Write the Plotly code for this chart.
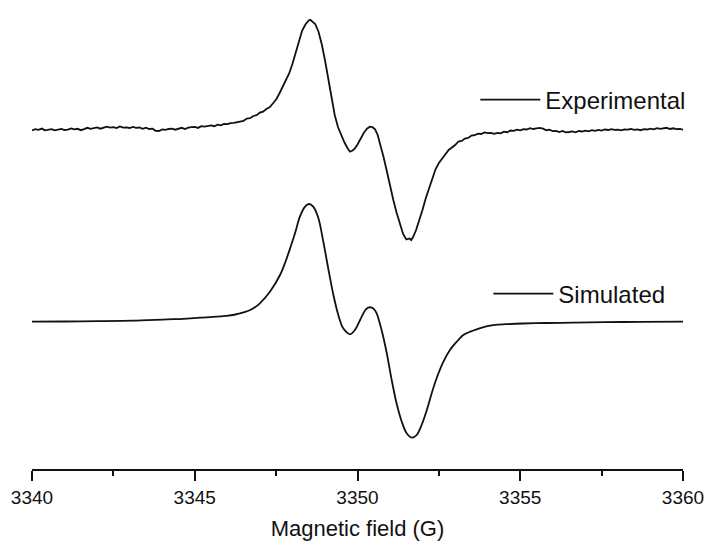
import plotly.graph_objects as go

# ---------------- data ----------------
exp_field = [
    3340.0, 3340.1, 3340.2, 3340.3, 3340.4, 3340.5, 3340.6, 3340.7, 3340.8, 3340.9,
    3341.0, 3341.1, 3341.2, 3341.3, 3341.4, 3341.5, 3341.6, 3341.7, 3341.8, 3341.9,
    3342.0, 3342.1, 3342.2, 3342.3, 3342.4, 3342.5, 3342.6, 3342.7, 3342.8, 3342.9,
    3343.0, 3343.1, 3343.2, 3343.3, 3343.4, 3343.5, 3343.6, 3343.7, 3343.8, 3343.9,
    3344.0, 3344.1, 3344.2, 3344.3, 3344.4, 3344.5, 3344.6, 3344.7, 3344.8, 3344.9,
    3345.0, 3345.1, 3345.2, 3345.3, 3345.4, 3345.5, 3345.6, 3345.7, 3345.8, 3345.9,
    3346.0, 3346.1, 3346.2, 3346.3, 3346.4, 3346.5, 3346.6, 3346.7, 3346.8, 3346.9,
    3347.0, 3347.1, 3347.2, 3347.3, 3347.4, 3347.5, 3347.6, 3347.7, 3347.8, 3347.9,
    3348.0, 3348.1, 3348.2, 3348.3, 3348.4, 3348.5, 3348.55, 3348.6, 3348.7, 3348.8,
    3348.9, 3349.0, 3349.1, 3349.2, 3349.3, 3349.4, 3349.5, 3349.6, 3349.7, 3349.77,
    3349.85, 3349.92, 3350.0, 3350.1, 3350.2, 3350.3, 3350.38, 3350.46, 3350.54, 3350.62,
    3350.7, 3350.8, 3350.9, 3351.0, 3351.1, 3351.2, 3351.3, 3351.4, 3351.5, 3351.6,
    3351.65, 3351.7, 3351.8, 3351.9, 3352.0, 3352.1, 3352.2, 3352.3, 3352.4, 3352.5,
    3352.6, 3352.7, 3352.8, 3352.9, 3353.0, 3353.1, 3353.2, 3353.3, 3353.4, 3353.5,
    3353.6, 3353.7, 3353.8, 3353.9, 3354.0, 3354.1, 3354.2, 3354.3, 3354.4, 3354.5,
    3354.6, 3354.7, 3354.8, 3354.9, 3355.0, 3355.1, 3355.2, 3355.3, 3355.4, 3355.5,
    3355.6, 3355.7, 3355.8, 3355.9, 3356.0, 3356.1, 3356.2, 3356.3, 3356.4, 3356.5,
    3356.6, 3356.7, 3356.8, 3356.9, 3357.0, 3357.1, 3357.2, 3357.3, 3357.4, 3357.5,
    3357.6, 3357.7, 3357.8, 3357.9, 3358.0, 3358.1, 3358.2, 3358.3, 3358.4, 3358.5,
    3358.6, 3358.7, 3358.8, 3358.9, 3359.0, 3359.1, 3359.2, 3359.3, 3359.4, 3359.5,
    3359.6, 3359.7, 3359.8, 3359.9, 3360.0,
]
exp_signal = [
    -0.5, 0.8, 0.2, 1.4, -0.3, 0.5, 0.9, -0.4, 0.3, 1.1,
    0.0, 0.4, 1.6, 0.7, 1.2, -0.2, 0.9, 2.2, 1.1, 1.8,
    2.6, 1.3, 2.0, 3.4, 2.4, 2.9, 1.9, 3.6, 2.3, 2.7,
    2.0, 3.1, 2.2, 2.5, 1.2, 2.4, 1.0, 1.3, -0.8, -1.0,
    0.6, 0.1, 1.0, 1.4, 0.3, 1.0, 2.2, 1.0, 2.4, 2.8,
    3.2, 2.1, 3.9, 3.3, 4.0, 4.6, 3.8, 5.4, 4.6, 6.1,
    5.8, 6.9, 7.2, 8.0, 9.0, 9.2, 11.4, 11.8, 14.0, 14.8,
    17.4, 18.4, 21.0, 22.6, 26.5, 30.5, 36.5, 43.0, 50.0, 56.5,
    66.0, 77.5, 90.0, 99.5, 105.5, 109.5, 110.2, 109.0, 106.0, 98.5,
    86.0, 70.0, 51.0, 32.0, 15.0, 3.0, -5.0, -12.5, -18.5, -21.7,
    -20.5, -18.3, -14.5, -9.0, -2.5, 1.5, 3.3, 2.8, 0.7, -5.0,
    -14.0, -27.0, -41.0, -56.7, -70.0, -82.5, -94.0, -104.0, -109.5, -108.5,
    -110.0, -107.5, -100.0, -90.5, -79.5, -68.0, -58.0, -47.5, -39.0, -33.0,
    -28.5, -25.0, -20.0, -17.5, -15.0, -11.5, -11.0, -8.5, -8.0, -5.5,
    -5.2, -3.6, -4.0, -2.4, -3.2, -2.8, -3.9, -2.9, -3.4, -1.6,
    -2.2, -0.5, -0.9, 0.3, -0.4, 0.9, 0.5, 1.8, 1.0, 1.6,
    2.1, 1.3, -0.2, 0.4, -1.2, -0.9, -2.1, -1.0, -2.4, -2.0,
    -1.4, -2.3, -1.0, -1.5, -0.7, -1.3, -0.2, -0.9, 0.1, -0.6,
    0.5, 0.0, 0.9, 0.2, 0.4, -0.4, 0.7, 0.3, 1.0, 0.2,
    0.6, -0.2, 0.8, 0.5, 1.3, 0.7, 1.9, 1.1, 1.6, 2.2,
    1.0, 1.7, 0.8, 1.2, 0.3,
]

sim_field = [
    3340.0, 3341.0, 3342.0, 3343.10, 3344.15, 3344.64, 3345.16, 3345.68, 3345.95, 3346.18,
    3346.39, 3346.55, 3346.70, 3346.85, 3347.00, 3347.31, 3347.62,
    3347.77, 3347.93, 3348.08, 3348.23, 3348.39, 3348.51, 3348.64, 3348.80, 3348.95, 3349.10,
    3349.26, 3349.41, 3349.56, 3349.77, 3349.92, 3350.08, 3350.16, 3350.23, 3350.32, 3350.41,
    3350.50, 3350.59, 3350.74,
    3350.90, 3351.05, 3351.20, 3351.36, 3351.51, 3351.67, 3351.82, 3351.97, 3352.13, 3352.28,
    3352.43, 3352.64, 3352.84, 3353.05, 3353.25, 3353.46, 3353.66, 3353.85, 3354.07, 3354.30,
    3354.60, 3355.08, 3355.80, 3356.62, 3357.60, 3358.68, 3360.0,
]
sim_signal = [
    0.0, 0.2, 0.5, 1.0, 2.4, 2.9, 4.0, 5.0, 5.8, 6.7,
    8.4, 9.8, 11.7, 14.5, 18.4, 30.0, 46.7,
    58.4, 73.4, 88.4, 105.0, 115.0, 117.7, 115.0, 103.4, 80.0, 53.4,
    26.7, 6.7, -6.6, -12.6, -8.3, 1.7, 7.0, 11.2, 13.9, 14.4,
    12.9, 8.4, -8.3,
    -31.6, -58.3, -81.6, -100.0, -111.6, -116.0, -113.3, -103.3, -88.3, -71.6,
    -56.6, -40.0, -28.3, -20.0, -13.3, -10.0, -7.6, -5.6, -4.0, -3.0,
    -2.4, -1.8, -1.3, -1.0, -0.5, -0.2, 0.0,
]

x_ticks = [3340, 3345, 3350, 3355, 3360]
x_title = "Magnetic field (G)"
series_names = ["Experimental", "Simulated"]

# vertical stacking offset of the experimental trace (display only)
EXP_OFFSET = 191.7

FONT = "Arial, 'Liberation Sans', sans-serif"
INK = "#111111"

fig = go.Figure()
fig.add_trace(go.Scatter(
    x=exp_field, y=[v + EXP_OFFSET for v in exp_signal], mode="lines",
    name=series_names[0], line=dict(color=INK, width=1.8), legend="legend",
))
fig.add_trace(go.Scatter(
    x=sim_field, y=sim_signal, mode="lines", name=series_names[1],
    line=dict(color=INK, width=1.8, shape="spline", smoothing=0.8), legend="legend2",
))

fig.update_layout(
    width=707, height=541,
    margin=dict(l=32, r=24, t=10, b=72),
    paper_bgcolor="white", plot_bgcolor="white",
    font=dict(family=FONT, color=INK, size=19),
    showlegend=True,
    legend=dict(x=0.681, y=0.804, xanchor="left", yanchor="middle",
                itemwidth=60,
                font=dict(size=24, family=FONT, color=INK),
                bgcolor="rgba(0,0,0,0)", borderwidth=0),
    legend2=dict(x=0.701, y=0.381, xanchor="left", yanchor="middle",
                 itemwidth=60,
                 font=dict(size=24, family=FONT, color=INK),
                 bgcolor="rgba(0,0,0,0)", borderwidth=0),
    xaxis=dict(
        range=[3340, 3360], tickvals=x_ticks, ticks="outside", ticklen=10,
        tickwidth=2, tickcolor=INK, showline=True, linewidth=2, linecolor=INK,
        showgrid=False, zeroline=False, tickfont=dict(size=19, family=FONT),
        automargin=False,
        minor=dict(dtick=2.5, tick0=3340, ticks="outside", ticklen=5, tickwidth=2,
                   tickcolor=INK, showgrid=False),
        title=dict(text=x_title, font=dict(size=22, family=FONT), standoff=14),
    ),
    yaxis=dict(range=[-147.3, 311.7], visible=False, showgrid=False, zeroline=False),
)

fig.write_html("out.html")
